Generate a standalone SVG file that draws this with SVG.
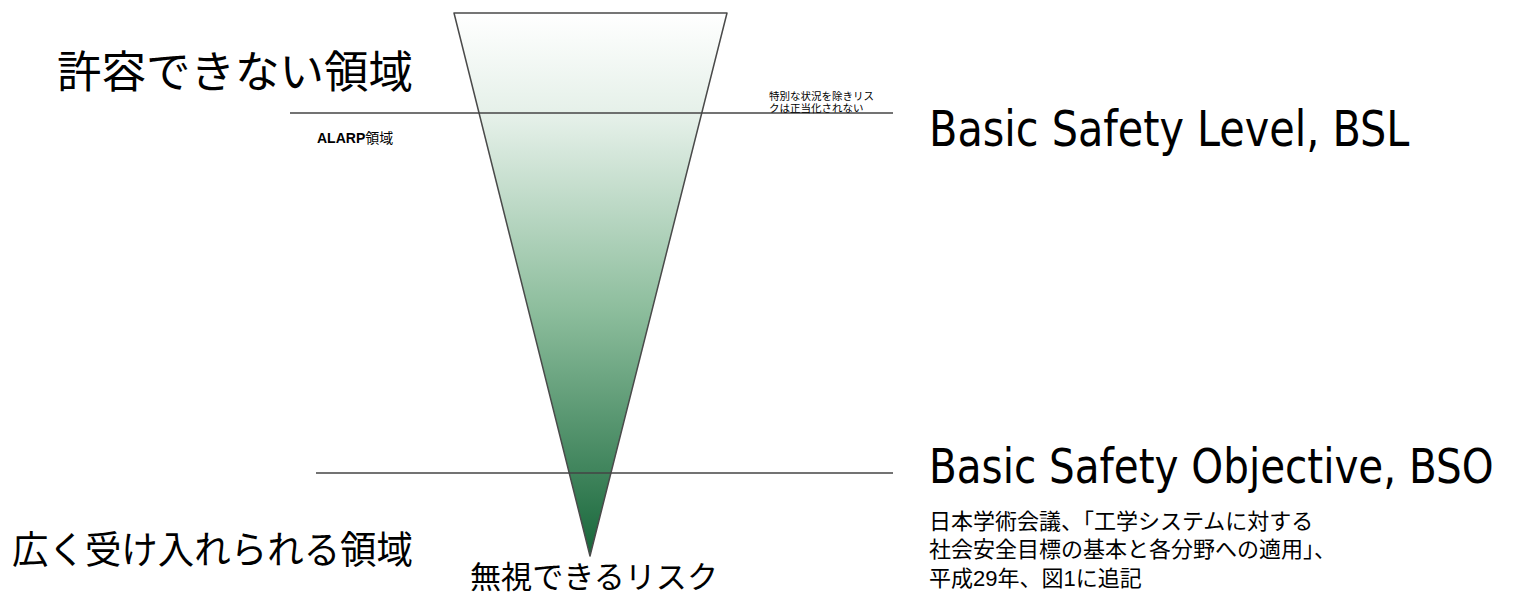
<svg xmlns="http://www.w3.org/2000/svg" width="1515" height="593" viewBox="0 0 1515 593">
<defs>
<linearGradient id="g" x1="0" y1="13" x2="0" y2="556" gradientUnits="userSpaceOnUse">
<stop offset="0" stop-color="#ffffff"/>
<stop offset="0.2" stop-color="#e3efe7"/>
<stop offset="0.55" stop-color="#8cbd9c"/>
<stop offset="1" stop-color="#17663a"/>
</linearGradient>
<style>
.j{font-family:"Liberation Sans","Noto Sans CJK JP",sans-serif;fill:#000}
.e{font-family:"DejaVu Sans Condensed","DejaVu Sans",sans-serif;fill:#000}
.ln{stroke:#444;stroke-width:1.3;fill:none}
</style>
</defs>
<g id="triangle">
<polygon points="454,13 727,13 590,556" fill="url(#g)" stroke="#4a4a4a" stroke-width="1.5" stroke-linejoin="round"/>
</g>
<g id="connectors">
<line class="ln" x1="290" y1="113" x2="893" y2="113"/>
<line class="ln" x1="316" y1="473" x2="893" y2="473"/>
</g>
<g id="labels-left">
<text class="j" x="57" y="88" font-size="44" textLength="356" lengthAdjust="spacingAndGlyphs">許容できない領域</text>
<text class="j" x="317" y="143" font-size="14" font-weight="bold" fill="#222">ALARP<tspan font-weight="normal">領域</tspan></text>
<text class="j" x="12" y="563" font-size="38" textLength="401" lengthAdjust="spacingAndGlyphs">広く受け入れられる領域</text>
<text class="j" x="470" y="588" font-size="31" textLength="248" lengthAdjust="spacingAndGlyphs">無視できるリスク</text>
</g>
<g id="labels-mid">
<text class="j" x="769" y="100" font-size="10.5" fill="#222">特別な状況を除きリス</text>
<text class="j" x="769" y="112" font-size="10.5" fill="#222">クは正当化されない</text>
</g>
<g id="labels-right">
<text class="e" transform="translate(929,146) scale(1,1.08)" x="0" y="0" font-size="46">Basic Safety Level, BSL</text>
<text class="e" transform="translate(929,483) scale(1,1.08)" x="0" y="0" font-size="45">Basic Safety Objective, BSO</text>
<text class="j" x="929" y="529" font-size="22">日本学術会議、「工学システムに対する</text>
<text class="j" x="929" y="557" font-size="22">社会安全目標の基本と各分野への適用」、</text>
<text class="j" x="929" y="586" font-size="22">平成29年、図1に追記</text>
</g>
</svg>
